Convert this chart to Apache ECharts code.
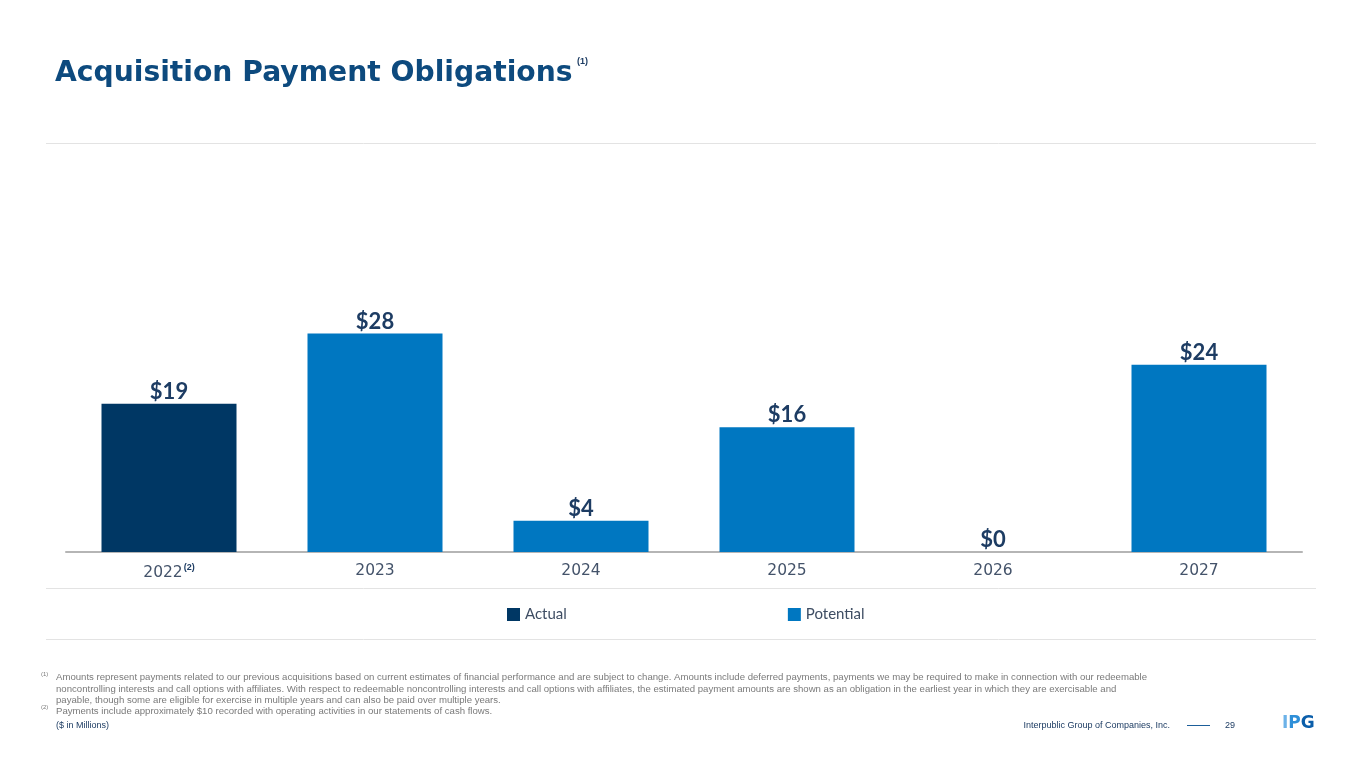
<!DOCTYPE html>
<html>
<head>
<meta charset="utf-8">
<script src="https://cdn.jsdelivr.net/npm/echarts@6/dist/echarts.min.js"></script>
<style>html,body{margin:0;padding:0;background:#fff;}#c{width:1365px;height:768px;}</style>
</head>
<body>
<div id="c"></div>
<script>
var categories = ['2022', '2023', '2024', '2025', '2026', '2027'];
var actualValues = [19, '-', '-', '-', '-', '-'];
var potentialValues = ['-', 28, 4, 16, 0, 24];
var seriesNames = ['Actual', 'Potential'];
var titleText = 'Acquisition Payment Obligations';
var footnotes = [
  'Amounts represent payments related to our previous acquisitions based on current estimates of financial performance and are subject to change. Amounts include deferred payments, payments we may be required to make in connection with our redeemable',
  'noncontrolling interests and call options with affiliates. With respect to redeemable noncontrolling interests and call options with affiliates, the estimated payment amounts are shown as an obligation in the earliest year in which they are exercisable and',
  'payable, though some are eligible for exercise in multiple years and can also be paid over multiple years.',
  'Payments include approximately $10 recorded with operating activities in our statements of cash flows.'
];

var chart = echarts.init(document.getElementById('c'));
var labelCfg = {
  show: true, position: 'top', distance: 1,
  formatter: function (p) { return '$' + p.value; },
  color: '#1d3c63', fontFamily: 'Lato', fontWeight: 'bold', fontSize: 22
};
var noteStyle = {fill: '#7a7a7a', fontFamily: 'Liberation Sans', fontSize: 9.6};
chart.setOption({
  animation: false,
  grid: {left: 66, top: 162, width: 1236, height: 390},
  legend: {
    left: 502, top: 602, itemWidth: 13, itemHeight: 13, itemGap: 221,
    icon: 'rect',
    textStyle: {color: '#3e4d63', fontFamily: 'Lato', fontSize: 15},
    data: seriesNames
  },
  xAxis: {
    type: 'category', data: categories,
    axisLine: {lineStyle: {color: '#b5b5b5', width: 2}},
    axisTick: {alignWithLabel: true, length: 4, lineStyle: {color: '#b5b5b5'}},
    axisLabel: {
      margin: 11, color: '#44536a', fontFamily: 'DejaVu Sans', fontSize: 15.5,
      formatter: function (v, i) { return i === 0 ? v + '{sup|(2)}' : v; },
      rich: {sup: {fontSize: 9, fontWeight: 'bold', color: '#1d3c63', verticalAlign: 'top', padding: [0, 0, 10, 1], fontFamily: 'Liberation Sans'}}
    }
  },
  yAxis: {type: 'value', min: 0, max: 50, show: false, splitLine: {show: false}},
  series: [
    {name: seriesNames[0], type: 'bar', stack: 's', data: actualValues, barWidth: 135,
     itemStyle: {color: '#003764'}, label: labelCfg},
    {name: seriesNames[1], type: 'bar', stack: 's', data: potentialValues, barWidth: 135,
     itemStyle: {color: '#0077c1'}, label: labelCfg}
  ],
  graphic: [
    {type: 'text', left: 55, top: 60, style: {text: titleText, fill: '#0d4a7e', fontFamily: 'DejaVu Sans', fontWeight: 'bold', fontSize: 28.2}},
    {type: 'text', left: 577, top: 57, style: {text: '(1)', fill: '#1d3c63', fontFamily: 'Liberation Sans', fontWeight: 'bold', fontSize: 9}},
    {type: 'line', shape: {x1: 46, y1: 143.5, x2: 1316, y2: 143.5}, style: {stroke: '#e3e3e3', lineWidth: 1}},
    {type: 'line', shape: {x1: 46, y1: 588.5, x2: 1316, y2: 588.5}, style: {stroke: '#e3e3e3', lineWidth: 1}},
    {type: 'line', shape: {x1: 46, y1: 639.5, x2: 1316, y2: 639.5}, style: {stroke: '#e3e3e3', lineWidth: 1}},
    {type: 'text', left: 41, top: 671, style: {text: '(1)', fill: '#7a7a7a', fontFamily: 'Liberation Sans', fontSize: 6}},
    {type: 'text', left: 56, top: 672, style: Object.assign({text: footnotes[0]}, noteStyle)},
    {type: 'text', left: 56, top: 684, style: Object.assign({text: footnotes[1]}, noteStyle)},
    {type: 'text', left: 56, top: 695, style: Object.assign({text: footnotes[2]}, noteStyle)},
    {type: 'text', left: 41, top: 704, style: {text: '(2)', fill: '#7a7a7a', fontFamily: 'Liberation Sans', fontSize: 6}},
    {type: 'text', left: 56, top: 706, style: Object.assign({text: footnotes[3]}, noteStyle)},
    {type: 'text', left: 56, top: 721, style: {text: '($ in Millions)', fill: '#1d3c63', fontFamily: 'Liberation Sans', fontSize: 9}},
    {type: 'text', right: 195, top: 721, style: {text: 'Interpublic Group of Companies, Inc.', fill: '#1d3c63', fontFamily: 'Liberation Sans', fontSize: 9}},
    {type: 'line', shape: {x1: 1187, y1: 725.5, x2: 1210, y2: 725.5}, style: {stroke: '#1d5f9a', lineWidth: 1}},
    {type: 'text', left: 1225, top: 721, style: {text: '29', fill: '#1d3c63', fontFamily: 'Liberation Sans', fontSize: 9}},
    {type: 'text', left: 1282, top: 715, style: {
      text: '{a|I}{b|P}{c|G}',
      rich: {
        a: {fill: '#6cb2e8', fontFamily: 'DejaVu Sans', fontWeight: 'bold', fontSize: 17},
        b: {fill: '#2f8fd8', fontFamily: 'DejaVu Sans', fontWeight: 'bold', fontSize: 17},
        c: {fill: '#0b5eaa', fontFamily: 'DejaVu Sans', fontWeight: 'bold', fontSize: 17}
      }
    }}
  ]
});
</script>
</body>
</html>
